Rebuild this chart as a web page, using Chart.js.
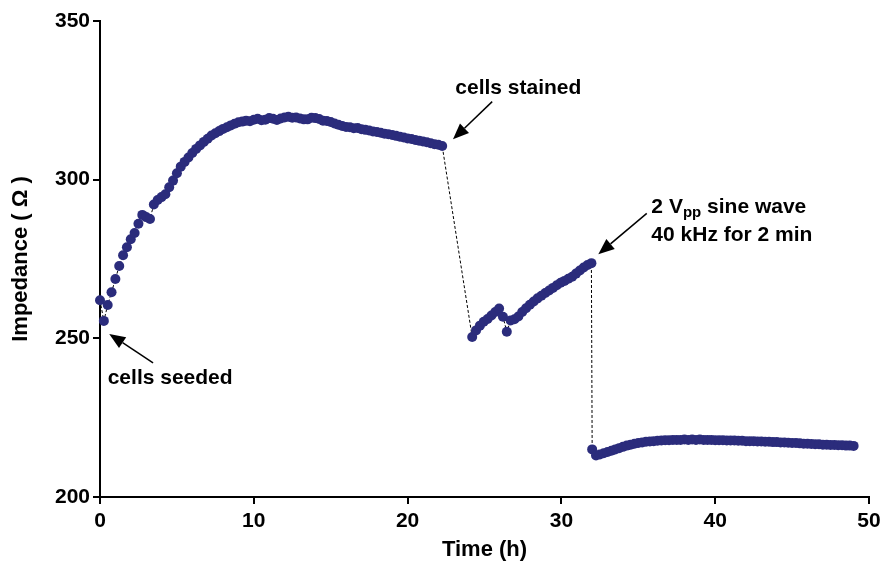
<!DOCTYPE html>
<html>
<head>
<meta charset="utf-8">
<title>Impedance vs time</title>
<script src="https://cdn.jsdelivr.net/npm/chart.js@4.4.1/dist/chart.umd.min.js"></script>
<style>
  html, body { margin: 0; padding: 0; background: #fff; }
  #impedanceChart { display: block; }
</style>
</head>
<body>
<canvas id="impedanceChart" width="880" height="563"></canvas>
<script>
// one reading every 15 min
const sampleStep = 0.25;

// after seeding
const seededStart = 0;
const seededValues = [
    262.0, 255.5, 260.5, 264.5, 268.7, 272.8, 276.2, 278.7, 281.2, 283.2,
    286.1, 288.9, 288.2, 287.6, 292.2, 293.6, 294.5, 295.4, 297.6, 299.7,
    302.0, 304.1, 305.6, 307.0, 308.4, 309.7, 310.8, 311.9, 312.9, 313.9,
    314.6, 315.3, 316.0, 316.5, 317.1, 317.6, 318.1, 318.3, 318.6, 318.4,
    318.9, 319.2, 318.7, 318.9, 319.4, 319.2, 318.8, 319.3, 319.6, 319.8,
    319.5, 319.6, 319.3, 319.0, 319.0, 319.5, 319.4, 319.1, 318.6, 318.5,
    318.2, 317.7, 317.3, 316.9, 316.6, 316.5, 316.2, 316.3, 315.9, 315.7,
    315.5, 315.2, 315.0, 314.8, 314.5, 314.3, 314.1, 313.8, 313.5, 313.3,
    313.0, 312.8, 312.5, 312.3, 312.0, 311.8, 311.5, 311.2, 311.0, 310.6
];

// after staining
const stainedStart = 24.2;
const stainedValues = [
    250.4, 252.5, 254.0, 255.2, 256.1, 257.2, 258.3, 259.4, 256.8, 252.1,
    255.6, 256.0, 256.9, 258.3, 259.5, 260.6, 261.6, 262.6, 263.4, 264.3,
    265.1, 265.9, 266.7, 267.5, 268.1, 268.8, 269.4, 270.4, 271.4, 272.3,
    273.1, 273.7
];

// after the sine wave
const sineStart = 32.0;
const sineValues = [
    215.0, 213.1, 213.4, 213.8, 214.2, 214.6, 215.0, 215.4, 215.8, 216.2,
    216.5, 216.8, 217.0, 217.2, 217.4, 217.5, 217.6, 217.7, 217.8, 217.9,
    217.9, 218.0, 218.0, 218.0, 218.1, 218.0, 218.1, 218.0, 218.1, 218.0,
    218.0, 218.0, 217.9, 217.9, 217.9, 217.8, 217.8, 217.8, 217.7, 217.7,
    217.6, 217.6, 217.6, 217.5, 217.5, 217.4, 217.4, 217.3, 217.3, 217.2,
    217.2, 217.1, 217.0, 217.0, 216.9, 216.8, 216.8, 216.7, 216.6, 216.6,
    216.5, 216.5, 216.4, 216.4, 216.3, 216.3, 216.2, 216.2, 216.1
];

const xTicks = [0, 10, 20, 30, 40, 50];
const yTicks = [200, 250, 300, 350];

const FONT = '"Liberation Sans", Arial, sans-serif';
const INK = '#000';
const DOT = '#2b2c7c';

function toPoints(start, values) {
    return values.map((v, i) => ({ x: start + i * sampleStep, y: v }));
}

const points = [].concat(
    toPoints(seededStart, seededValues),
    toPoints(stainedStart, stainedValues),
    toPoints(sineStart, sineValues)
);

// text notes with arrows, in data units
const notes = [
    { x: 0.5, y: 237.5, lines: [[{ t: 'cells seeded' }]], from: [3.45, 242.3], to: [0.6, 251.4] },
    { x: 23.1, y: 328.8, lines: [[{ t: 'cells stained' }]], from: [25.5, 324.6], to: [22.95, 312.7] },
    {
        x: 35.85, y: 291.3,
        lines: [
            [{ t: '2 V' }, { t: 'pp', sub: true }, { t: ' sine wave' }],
            [{ t: '40 kHz for 2 min' }]
        ],
        from: [35.55, 289.4], to: [32.4, 276.5]
    }
];

const notesPlugin = {
    id: 'notes',
    afterDatasetsDraw(chart) {
        const ctx = chart.ctx;
        const xs = chart.scales.x, ys = chart.scales.y;
        ctx.save();
        ctx.fillStyle = INK;
        ctx.strokeStyle = INK;
        ctx.textBaseline = 'middle';
        ctx.textAlign = 'left';
        notes.forEach(n => {
            let px = xs.getPixelForValue(n.x);
            let py = ys.getPixelForValue(n.y);
            n.lines.forEach((line, li) => {
                let cx = px;
                const cy = py + li * 27.5;
                line.forEach(part => {
                    ctx.font = part.sub ? 'bold 15px ' + FONT : 'bold 21px ' + FONT;
                    ctx.fillText(part.t, cx, part.sub ? cy + 6 : cy);
                    cx += ctx.measureText(part.t).width;
                });
            });

            // arrow
            const x1 = xs.getPixelForValue(n.from[0]), y1 = ys.getPixelForValue(n.from[1]);
            const x2 = xs.getPixelForValue(n.to[0]), y2 = ys.getPixelForValue(n.to[1]);
            const ang = Math.atan2(y2 - y1, x2 - x1);
            const headLen = 16, headHalf = 6.5;
            const bx = x2 - headLen * Math.cos(ang), by = y2 - headLen * Math.sin(ang);
            ctx.lineWidth = 1.5;
            ctx.beginPath();
            ctx.moveTo(x1, y1);
            ctx.lineTo(bx, by);
            ctx.stroke();
            ctx.beginPath();
            ctx.moveTo(x2, y2);
            ctx.lineTo(bx + headHalf * Math.sin(ang), by - headHalf * Math.cos(ang));
            ctx.lineTo(bx - headHalf * Math.sin(ang), by + headHalf * Math.cos(ang));
            ctx.closePath();
            ctx.fill();
        });
        ctx.restore();
    }
};

const tickFont = { family: FONT, size: 21, weight: 'bold' };
const titleFont = { family: FONT, size: 22, weight: 'bold' };

new Chart(document.getElementById('impedanceChart'), {
    type: 'scatter',
    data: {
        datasets: [{
            data: points,
            showLine: true,
            borderColor: INK,
            borderWidth: 1,
            borderDash: [3, 2],
            pointRadius: 5,
            pointHoverRadius: 5,
            pointBackgroundColor: DOT,
            pointBorderWidth: 0,
            clip: false
        }]
    },
    options: {
        responsive: false,
        animation: false,
        devicePixelRatio: 1,
        layout: { padding: { left: 0, right: 11, top: 21, bottom: 0 } },
        plugins: {
            legend: { display: false },
            tooltip: { enabled: false }
        },
        scales: {
            x: {
                type: 'linear',
                min: 0,
                max: 50,
                afterBuildTicks: s => { s.ticks = xTicks.map(v => ({ value: v })); },
                afterFit: s => { s.height = 66; s.paddingLeft = 0; s.paddingRight = 0; },
                grid: { drawOnChartArea: false, drawTicks: true, tickLength: 7, color: INK, lineWidth: 2 },
                border: { display: true, color: INK, width: 2 },
                ticks: { color: INK, font: tickFont, padding: 5, maxRotation: 0 },
                title: { display: true, text: 'Time (h)', color: INK, font: titleFont, padding: { top: 0, bottom: 0 } }
            },
            y: {
                type: 'linear',
                min: 200,
                max: 350,
                afterBuildTicks: s => { s.ticks = yTicks.map(v => ({ value: v })); },
                afterFit: s => { s.width = 100; s.paddingTop = 0; s.paddingBottom = 0; },
                grid: { drawOnChartArea: false, drawTicks: true, tickLength: 7, color: INK, lineWidth: 2 },
                border: { display: true, color: INK, width: 2 },
                ticks: { color: INK, font: tickFont, padding: 3 },
                title: { display: true, text: 'Impedance ( Ω )', color: INK, font: titleFont, padding: { top: 8, bottom: 0 } }
            }
        }
    },
    plugins: [notesPlugin]
});
</script>
</body>
</html>
